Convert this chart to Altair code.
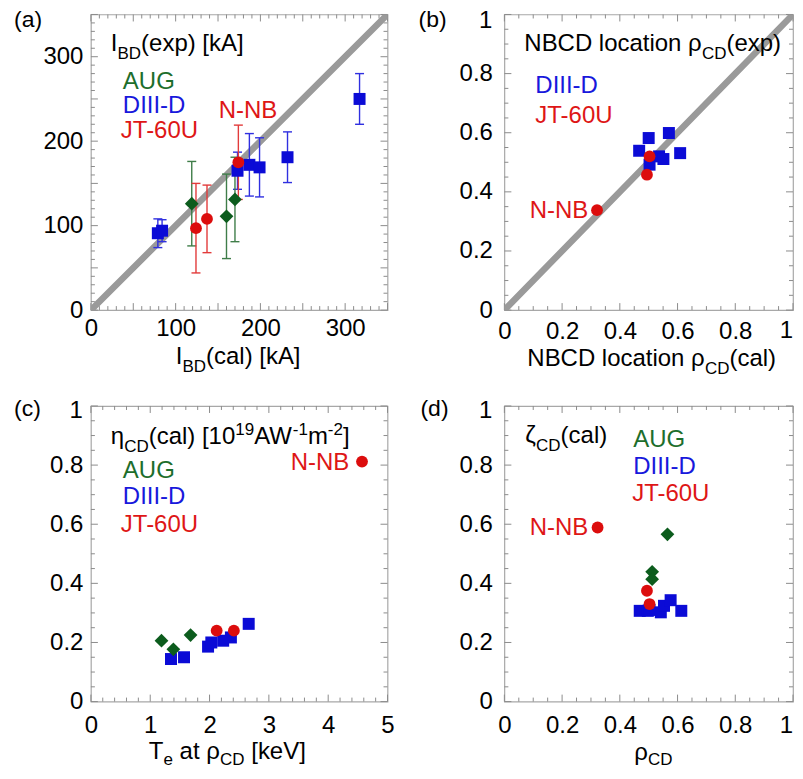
import altair as alt
import pandas as pd
import numpy as np

# ---------------- data ----------------
# (a) I_BD(cal) vs I_BD(exp) [kA]
a_diii_x = [79, 84, 173, 187, 199, 232, 317]
a_diii_y = [91, 94, 165, 172, 169, 181, 250]
a_diii_err = [17, 13, 22, 37, 35, 30, 30]
a_aug_x = [119, 160, 170]
a_aug_y = [126, 111, 131]
a_aug_err = [50, 50, 50]
a_jt_x = [124, 137, 174]
a_jt_y = [97, 108, 175]
a_jt_err = [53, 40, 44]

# (b) rho_CD(cal) vs rho_CD(exp)
b_diii_x = [0.467, 0.500, 0.503, 0.536, 0.551, 0.570, 0.609]
b_diii_y = [0.539, 0.582, 0.492, 0.520, 0.511, 0.599, 0.531]
b_jt_x = [0.321, 0.503, 0.494]
b_jt_y = [0.338, 0.520, 0.458]

# (c) Te at rho_CD vs eta_CD(cal)
c_aug_x = [1.19, 1.39, 1.68]
c_aug_y = [0.206, 0.177, 0.225]
c_diii_x = [1.35, 1.57, 1.975, 2.03, 2.23, 2.36, 2.66]
c_diii_y = [0.144, 0.150, 0.186, 0.200, 0.206, 0.217, 0.263]
c_jt_x = [2.12, 2.41, 4.57]
c_jt_y = [0.240, 0.240, 0.812]

# (d) rho_CD vs zeta_CD(cal)
d_aug_x = [0.565, 0.512, 0.512]
d_aug_y = [0.566, 0.439, 0.414]
d_diii_x = [0.469, 0.497, 0.503, 0.542, 0.553, 0.576, 0.613]
d_diii_y = [0.307, 0.307, 0.310, 0.302, 0.324, 0.343, 0.307]
d_jt_x = [0.323, 0.494, 0.503]
d_jt_y = [0.589, 0.375, 0.330]

# tick labels ("1" at the ends of the unit axes is written as a text beside the frame)
a_ticks = [0, 100, 200, 300]
unit_ticks = [0, 0.2, 0.4, 0.6, 0.8]
c_xticks = [0, 1, 2, 3, 4, 5]
end_label = "1"

# ---------------- styling ----------------
FONT = "Liberation Sans"
BLUE, GREEN, RED = "#0b0bd6", "#0c5c1d", "#dc0d0d"
BLUE_T, GREEN_T, RED_T = "#1818dc", "#1d6e2c", "#de1616"
BLUE_E, GREEN_E, RED_E = "#3030e0", "#3f7d49", "#e23b3b"
GRAY_LINE = "#9a9a9a"
TICK = "#8c8c8c"
WL, WR, H = 297, 289, 296
MAIN, SUB = 24, 17

CW = {' ': 278, '(': 333, ')': 333, '[': 278, ']': 278, '-': 333,
      'A': 667, 'B': 667, 'C': 722, 'D': 722, 'E': 667, 'G': 778, 'I': 278,
      'J': 500, 'L': 556, 'N': 722, 'T': 611, 'U': 722, 'V': 667, 'W': 944,
      'a': 556, 'c': 500, 'e': 556, 'i': 222, 'k': 500, 'l': 222, 'm': 833,
      'n': 556, 'o': 556, 'p': 556, 't': 278, 'x': 500,
      'ρ': 577, 'η': 556, 'ζ': 449}


def tw(s, fs):
    return sum(CW.get(ch, 556) for ch in s) / 1000.0 * fs


def rich(x0, y0, segs, color="black", sub_dy=8):
    rows = []
    x = x0
    for text, kind in segs:
        fs = MAIN if kind == "n" else SUB
        dy = {"n": 0, "sub": sub_dy, "sup": -9}[kind]
        lead = len(text) - len(text.lstrip(" "))
        x += tw(" " * lead, fs)
        core = text.strip(" ")
        rows.append(dict(px=x, py=y0 + dy, text=core, fs=fs, col=color))
        x += tw(core, fs)
        trail = len(text) - len(text.rstrip(" "))
        x += tw(" " * trail, fs)
    return rows


def label(x0, y0, text, color, fs=MAIN):
    return [dict(px=x0, py=y0, text=text, fs=fs, col=color)]


def y_end_label(ypad, baseline):
    return label(-ypad - tw(end_label, MAIN), baseline, end_label, "black")


def x_end_label(W, xpad):
    return label(W - tw(end_label, MAIN), H + xpad + 19, end_label, "black")


def text_layer(rows):
    df = pd.DataFrame(rows)
    return alt.Chart(df).mark_text(align="left", baseline="alphabetic", font=FONT).encode(
        x=alt.X("px:Q", scale=None),
        y=alt.Y("py:Q", scale=None),
        text="text:N",
        size=alt.Size("fs:Q", scale=None, legend=None),
        color=alt.Color("col:N", scale=None, legend=None),
    )


def make_axis(values, pad, fmt="~r"):
    return alt.Axis(values=values, title=None, domain=False, ticks=False, tickSize=0,
                    grid=False, labelFont=FONT, labelFontSize=24, labelColor="black",
                    labelPadding=pad, labelFlush=False, labelOverlap=False, format=fmt)


def tick_layers(P, W, xmaj, xmin, ymaj, ymin):
    xs, ys, xa, ya = P
    layers = []
    for vals, L in [(xmaj, 7), (xmin, 4)]:
        base = alt.Chart(pd.DataFrame({"v": vals})).mark_rule(color=TICK, strokeWidth=1)
        layers.append(base.encode(x=alt.X("v:Q", scale=xs, axis=xa), y=alt.value(H), y2=alt.value(H - L)))
        layers.append(base.encode(x=alt.X("v:Q", scale=xs, axis=xa), y=alt.value(0), y2=alt.value(L)))
    for vals, L in [(ymaj, 7), (ymin, 4)]:
        base = alt.Chart(pd.DataFrame({"v": vals})).mark_rule(color=TICK, strokeWidth=1)
        layers.append(base.encode(y=alt.Y("v:Q", scale=ys, axis=ya), x=alt.value(0), x2=alt.value(L)))
        layers.append(base.encode(y=alt.Y("v:Q", scale=ys, axis=ya), x=alt.value(W), x2=alt.value(W - L)))
    return layers


def minor(lo, hi, step, major_step):
    vals = np.round(np.arange(lo, hi + step / 2, step), 6)
    return [float(v) for v in vals if abs(v / major_step - round(v / major_step)) > 1e-6]


def majors(lo, hi, step):
    return [float(v) for v in np.round(np.arange(lo, hi + step / 2, step), 6)]


def points(P, x, y, shape, color, size):
    xs, ys, xa, ya = P
    df = pd.DataFrame({"x": x, "y": y})
    if shape == "circle":
        m = alt.Chart(df).mark_circle(size=size, color=color, opacity=1)
    elif shape == "square":
        m = alt.Chart(df).mark_square(size=size, color=color, opacity=1)
    else:
        m = alt.Chart(df).mark_point(shape="diamond", filled=True, size=size, color=color, opacity=1)
    return m.encode(x=alt.X("x:Q", scale=xs, axis=xa), y=alt.Y("y:Q", scale=ys, axis=ya))


def errorbars(P, x, y, err, color):
    xs, ys, xa, ya = P
    df = pd.DataFrame({"x": x, "lo": [a - b for a, b in zip(y, err)], "hi": [a + b for a, b in zip(y, err)]})
    rule = alt.Chart(df).mark_rule(color=color, strokeWidth=1.4).encode(
        x=alt.X("x:Q", scale=xs, axis=xa), y=alt.Y("lo:Q", scale=ys, axis=ya), y2="hi:Q")
    caps = pd.DataFrame({"x": list(df["x"]) * 2, "c": list(df["lo"]) + list(df["hi"])})
    cap = alt.Chart(caps).mark_tick(orient="horizontal", size=9, thickness=1.4, color=color, opacity=1).encode(
        x=alt.X("x:Q", scale=xs, axis=xa), y=alt.Y("c:Q", scale=ys, axis=ya))
    return [rule, cap]


def diagonal(P, lo, hi):
    xs, ys, xa, ya = P
    df = pd.DataFrame({"x": [lo, hi], "y": [lo, hi]})
    return alt.Chart(df).mark_line(color=GRAY_LINE, strokeWidth=6.5, strokeCap="round",
                                   strokeJoin="round", clip=True).encode(
        x=alt.X("x:Q", scale=xs, axis=xa), y=alt.Y("y:Q", scale=ys, axis=ya))


def lin(lo, hi):
    return alt.Scale(domain=[lo, hi], nice=False, zero=False)


# ---------------- panel (a) ----------------
Pa = (lin(0, 350), lin(0, 350), make_axis(a_ticks, 6, "d"), make_axis(a_ticks, 8, "d"))
txt_a = (label(-77, 13, "(a)", "black", 23)
         + rich(20, 37, [("I", "n"), ("BD", "sub"), ("(exp) [kA]", "n")])
         + label(32, 75, "AUG", GREEN_T)
         + label(32, 99, "DIII-D", BLUE_T)
         + label(30, 124, "JT-60U", RED_T)
         + label(128, 104, "N-NB", RED_T)
         + rich(85, 350, [("I", "n"), ("BD", "sub"), ("(cal) [kA]", "n")]))
layers_a = tick_layers(Pa, WL, majors(0, 350, 50), minor(0, 350, 10, 50),
                       majors(0, 350, 50), minor(0, 350, 10, 50))
layers_a.append(diagonal(Pa, 0, 350))
layers_a += errorbars(Pa, a_diii_x, a_diii_y, a_diii_err, BLUE_E)
layers_a += errorbars(Pa, a_aug_x, a_aug_y, a_aug_err, GREEN_E)
layers_a += errorbars(Pa, a_jt_x, a_jt_y, a_jt_err, RED_E)
layers_a.append(points(Pa, a_diii_x, a_diii_y, "square", BLUE, 144))
layers_a.append(points(Pa, a_aug_x, a_aug_y, "diamond", GREEN, 190))
layers_a.append(points(Pa, a_jt_x, a_jt_y, "circle", RED, 140))
layers_a.append(text_layer(txt_a))
panel_a = alt.layer(*layers_a).properties(width=WL, height=H)

# ---------------- panel (b) ----------------
Pb = (lin(0, 1), lin(0, 1), make_axis(unit_ticks, 9), make_axis(unit_ticks, 12))
nnb_w = tw("N-NB", MAIN)
txt_b = (label(-86, 13, "(b)", "black", 23)
         + rich(20, 37, [("NBCD location ρ", "n"), ("CD", "sub"), ("(exp)", "n")])
         + label(31, 79, "DIII-D", BLUE_T)
         + label(31, 109, "JT-60U", RED_T)
         + label(84 - nnb_w, 204, "N-NB", RED_T)
         + rich(23, 352, [("NBCD location ρ", "n"), ("CD", "sub"), ("(cal)", "n")])
         + y_end_label(12, 14) + x_end_label(WR, 9))
layers_b = tick_layers(Pb, WR, majors(0, 1, 0.2), minor(0, 1, 0.05, 0.2),
                       majors(0, 1, 0.2), minor(0, 1, 0.05, 0.2))
layers_b.append(diagonal(Pb, 0, 1))
layers_b.append(points(Pb, b_diii_x, b_diii_y, "square", BLUE, 144))
layers_b.append(points(Pb, b_jt_x, b_jt_y, "circle", RED, 140))
layers_b.append(text_layer(txt_b))
panel_b = alt.layer(*layers_b).properties(width=WR, height=H)

# ---------------- panel (c) ----------------
Pc = (lin(0, 5), lin(0, 1), make_axis(c_xticks, 12), make_axis(unit_ticks, 8))
txt_c = (label(-77, 10, "(c)", "black", 23)
         + rich(20, 38, [("η", "n"), ("CD", "sub"), ("(cal) [10", "n"), ("19", "sup"),
                         ("AW", "n"), ("-1", "sup"), ("m", "n"), ("-2", "sup"), ("]", "n")])
         + label(32, 72, "AUG", GREEN_T)
         + label(32, 98, "DIII-D", BLUE_T)
         + label(30, 126, "JT-60U", RED_T)
         + label(200, 64, "N-NB", RED_T)
         + rich(58, 353, [("T", "n"), ("e", "sub"), (" at ρ", "n"), ("CD", "sub"), (" [keV]", "n")],
                sub_dy=6)
         + y_end_label(8, 12))
layers_c = tick_layers(Pc, WL, majors(0, 5, 1), minor(0, 5, 0.2, 1),
                       majors(0, 1, 0.2), minor(0, 1, 0.05, 0.2))
layers_c.append(points(Pc, c_diii_x, c_diii_y, "square", BLUE, 144))
layers_c.append(points(Pc, c_aug_x, c_aug_y, "diamond", GREEN, 190))
layers_c.append(points(Pc, c_jt_x, c_jt_y, "circle", RED, 140))
layers_c.append(text_layer(txt_c))
panel_c = alt.layer(*layers_c).properties(width=WL, height=H)

# ---------------- panel (d) ----------------
Pd = (lin(0, 1), lin(0, 1), make_axis(unit_ticks, 12), make_axis(unit_ticks, 12))
txt_d = (label(-84, 10, "(d)", "black", 23)
         + rich(21, 37, [("ζ", "n"), ("CD", "sub"), ("(cal)", "n")])
         + label(129, 41, "AUG", GREEN_T)
         + label(129, 68, "DIII-D", BLUE_T)
         + label(128, 95, "JT-60U", RED_T)
         + label(84 - nnb_w, 129, "N-NB", RED_T)
         + rich(130, 354, [("ρ", "n"), ("CD", "sub")], sub_dy=5)
         + y_end_label(12, 12) + x_end_label(WR, 12))
layers_d = tick_layers(Pd, WR, majors(0, 1, 0.2), minor(0, 1, 0.05, 0.2),
                       majors(0, 1, 0.2), minor(0, 1, 0.05, 0.2))
layers_d.append(points(Pd, d_diii_x, d_diii_y, "square", BLUE, 144))
layers_d.append(points(Pd, d_aug_x, d_aug_y, "diamond", GREEN, 190))
layers_d.append(points(Pd, d_jt_x, d_jt_y, "circle", RED, 140))
layers_d.append(text_layer(txt_d))
panel_d = alt.layer(*layers_d).properties(width=WR, height=H)

chart = alt.concat(
    panel_a, panel_b, panel_c, panel_d,
    columns=2, spacing={"row": 96, "column": 117}, bounds="flush",
).properties(
    padding={"left": 5, "top": 0, "right": 0, "bottom": 0},
    background="white",
).configure_view(stroke="#a8a8a8", strokeWidth=1.2)

chart.save("out.html", embed_options={"renderer": "svg", "actions": False})
